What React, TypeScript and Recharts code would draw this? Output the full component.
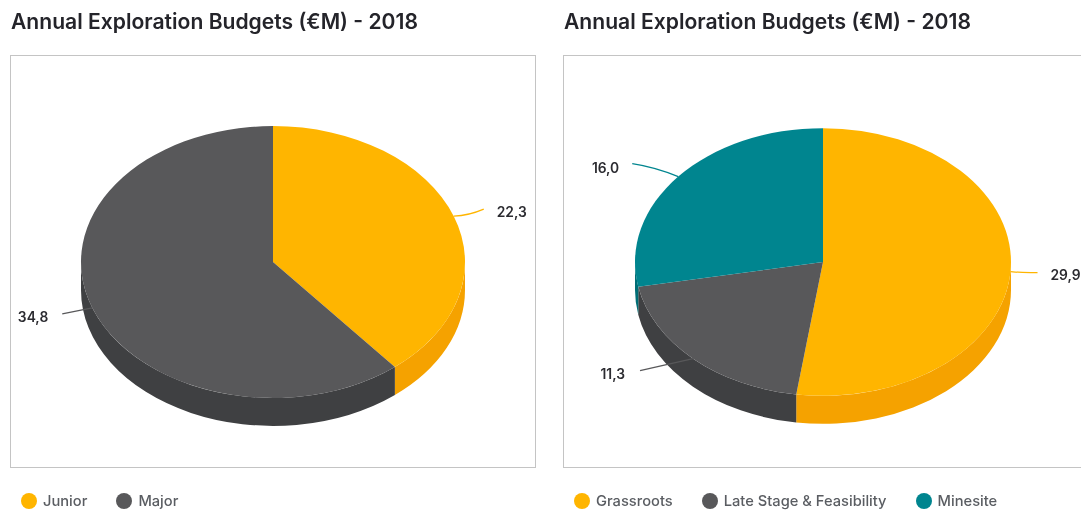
import React from "react";
import { PieChart, Pie, Cell, Legend } from "recharts";

const TITLE = "Annual Exploration Budgets (€M) - 2018";

const ownerNames = ["Junior", "Major"];
const ownerValues = [22.3, 34.8];
const ownerColors = ["#FFB500", "#58585A"];
const ownerWalls = ["#F5A200", "#3F4042"];

const stageNames = ["Grassroots", "Late Stage & Feasibility", "Minesite"];
const stageValues = [29.9, 11.3, 16.0];
const stageColors = ["#FFB500", "#58585A", "#00858F"];
const stageWalls = ["#F5A200", "#3F4042", "#006E76"];

const toRows = (names: string[], values: number[]) =>
  names.map((name, i) => ({ name, value: values[i] }));

// leader line layout, relative to the rim point at each slice's mid angle
const leaders: Record<string, { dx: number; dy: number; bend: number; tx: number; ty: number; anchor: string }> = {
  Junior: { dx: 30, dy: -7, bend: 3, tx: 13, ty: 8, anchor: "start" },
  Major: { dx: -30, dy: 6, bend: 0, tx: -14, ty: 8, anchor: "end" },
  Grassroots: { dx: 27, dy: 1, bend: 1, tx: 13, ty: 7, anchor: "start" },
  "Late Stage & Feasibility": { dx: -53, dy: 12, bend: 0, tx: -15, ty: 8, anchor: "end" },
  Minesite: { dx: -46, dy: -13, bend: -3, tx: -13, ty: 9, anchor: "end" },
};

const FONT = "Inter, sans-serif";

function pt(cx: number, cy: number, rx: number, ry: number, deg: number) {
  const r = (deg * Math.PI) / 180;
  return { x: cx + rx * Math.cos(r), y: cy - ry * Math.sin(r) };
}

function makeShape(squash: number, depth: number, walls: string[]) {
  return (props: any) => {
    const { cx, cy, outerRadius: rx, startAngle: s, endAngle: e, fill, index } = props;
    const ry = rx * squash;
    const p0 = pt(cx, cy, rx, ry, s);
    const p1 = pt(cx, cy, rx, ry, e);
    const a = Math.min(s, 0);
    const b = Math.max(e, -180);
    let wall = null;
    if (a > b) {
      const w0 = pt(cx, cy, rx, ry, a);
      const w1 = pt(cx, cy, rx, ry, b);
      wall = (
        <path
          d={`M${w0.x},${w0.y} A${rx},${ry} 0 0 1 ${w1.x},${w1.y} L${w1.x},${w1.y + depth} A${rx},${ry} 0 0 0 ${w0.x},${w0.y + depth} Z`}
          fill={walls[index]}
        />
      );
    }
    return (
      <g>
        {wall}
        <path
          d={`M${cx},${cy} L${p0.x},${p0.y} A${rx},${ry} 0 ${s - e > 180 ? 1 : 0} 1 ${p1.x},${p1.y} Z`}
          fill={fill}
        />
      </g>
    );
  };
}

function makeLabel(squash: number) {
  return (props: any) => {
    const { cx, cy, outerRadius: rx, midAngle, value, name, fill } = props;
    const l = leaders[name];
    const p = pt(cx, cy, rx, rx * squash, midAngle);
    const ex = p.x + l.dx;
    const ey = p.y + l.dy;
    const mx = (p.x + ex) / 2;
    const my = (p.y + ey) / 2 + l.bend;
    return (
      <g>
        <path d={`M${p.x},${p.y} Q${mx},${my} ${ex},${ey}`} fill="none" stroke={fill} strokeWidth={1.2} />
        <text x={ex + l.tx} y={ey + l.ty} textAnchor={l.anchor} fontFamily={FONT} fontSize={13.8} fontWeight={600} fill="#2b2b30">
          {value.toFixed(1).replace(".", ",")}
        </text>
      </g>
    );
  };
}

const legendContent = (gap: number) => (props: any) => (
  <div style={{ display: "flex", alignItems: "center", fontFamily: FONT, fontSize: 14.7, fontWeight: 500, color: "#5a5d62" }}>
    {props.payload.map((p: any) => (
      <div key={p.value} style={{ display: "flex", alignItems: "center", marginRight: gap }}>
        <span style={{ width: 16, height: 16, borderRadius: 8, background: p.color, marginRight: 6, display: "inline-block" }} />
        {p.value}
      </div>
    ))}
  </div>
);

function Panel(props: {
  left: number; width: number; frameWidth: number; pieCx: number; pieCy: number; radius: number; squash: number; depth: number;
  names: string[]; values: number[]; colors: string[]; walls: string[]; legendLeft: number; gap: number;
}) {
  const rows = toRows(props.names, props.values);
  return (
    <div style={{ position: "absolute", left: props.left, top: 0, width: props.width, height: 511, overflow: "hidden" }}>
      <div style={{ position: "absolute", left: 1, top: 9, fontFamily: FONT, fontSize: 21.1, fontWeight: 600, color: "#24242a", whiteSpace: "nowrap" }}>
        {TITLE}
      </div>
      <div style={{ position: "absolute", left: 0, top: 55, width: props.frameWidth, height: 411, border: "1px solid #c4c4c4", boxSizing: "content-box" }} />
      <div style={{ position: "absolute", left: 0, top: 0 }}>
        <PieChart width={props.width} height={511} margin={{ top: 0, right: 0, bottom: 0, left: 0 }}>
          <Pie
            data={rows}
            dataKey="value"
            nameKey="name"
            cx={props.pieCx}
            cy={props.pieCy}
            innerRadius={0}
            outerRadius={props.radius}
            startAngle={90}
            endAngle={-270}
            stroke="none"
            isAnimationActive={false}
            labelLine={false}
            label={makeLabel(props.squash)}
            shape={makeShape(props.squash, props.depth, props.walls)}
          >
            {rows.map((r, i) => (
              <Cell key={r.name} fill={props.colors[i]} />
            ))}
          </Pie>
          <Legend
            content={legendContent(props.gap)}
            wrapperStyle={{ position: "absolute", left: props.legendLeft, top: 492, bottom: "auto", width: "auto" }}
          />
        </PieChart>
      </div>
    </div>
  );
}

export default function App() {
  return (
    <div style={{ position: "absolute", left: 0, top: 0, width: 1081, height: 511, background: "#fff", overflow: "hidden", filter: "blur(0.4px)" }}>
      <Panel left={10} width={530} frameWidth={524} pieCx={263} pieCy={262} radius={192} squash={0.708} depth={28}
        names={ownerNames} values={ownerValues} colors={ownerColors} walls={ownerWalls} legendLeft={11} gap={29} />
      <Panel left={563} width={518} frameWidth={530} pieCx={260} pieCy={262} radius={188} squash={0.712} depth={28}
        names={stageNames} values={stageValues} colors={stageColors} walls={stageWalls} legendLeft={11} gap={29} />
    </div>
  );
}
